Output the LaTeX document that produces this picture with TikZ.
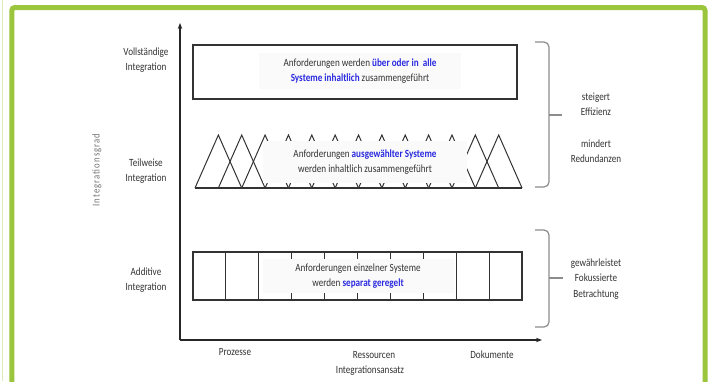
\documentclass[tikz,border=0pt]{standalone}
\usepackage{fontspec}
\setmainfont{Carlito}[FakeStretch=0.83]
\usetikzlibrary{arrows.meta,positioning}

\definecolor{framegreen}{HTML}{9BC53D}
\definecolor{textgray}{HTML}{333333}
\definecolor{hlblue}{HTML}{2A2AE0}
\definecolor{bracegray}{HTML}{8C8C8C}

\newcommand{\hl}[1]{\textcolor{hlblue}{\textbf{#1}}}

\begin{document}
\begin{tikzpicture}[
    x=1pt, y=-1pt,
    font=\fontsize{11}{15.5}\selectfont,
    text=textgray,
    frame/.style={draw=framegreen, line width=5pt, rounded corners=3pt},
    axis/.style={-{Stealth[length=6pt,width=4.5pt]}, line width=1.3pt, draw=black!85},
    box/.style={draw=black!80, line width=1.6pt},
    thin line/.style={draw=black!80, line width=1pt},
    textbox/.style={fill=black!2, align=center, inner sep=0pt},
    level/.style={align=center},
    effect/.style={align=center},
    bracket/.style={draw=bracegray, line width=1.2pt, rounded corners=5pt}
]
\useasboundingbox (0,0) rectangle (710,381);
\fill[white] (0,0) rectangle (710,381);

% Frame
\draw[framegreen!35, line width=1pt] (2,0) -- (2,381);
\draw[frame] (11.8,390) -- (11.8,7.5) -- (705,7.5) -- (705,390);

% Axes
\coordinate (origin) at (180,340);
\coordinate (ytop) at (180,23);
\coordinate (xend) at (542,340);
\draw[axis] (origin) -- (ytop);
\draw[axis] (origin) -- (xend);

\node[rotate=90, text=black!55, font=\fontsize{10.5}{12}\selectfont\addfontfeatures{LetterSpace=10}] (ylabel) at (97,170) {Integrationsgrad};

% Levels
\node[level] (vollst) at (146,60) {Vollständige\\Integration};
\node[level] (teilw) at (146,171) {Teilweise\\Integration};
\node[level] (additiv) at (146,280) {Additive\\Integration};

% Full integration
\draw[box] (193,45) rectangle (517,99);
\node[textbox, minimum width=202pt, minimum height=36pt] (fulltext) at (360,71)
    {Anforderungen werden \hl{über oder in\ \ alle}\\\hl{Systeme inhaltlich} zusammengeführt};

% Partial integration
\foreach \k in {1,...,13} {
    \draw[thin line] ({195+23.36*(\k-1)},188) -- ({195+23.36*\k},135) -- ({195+23.36*(\k+1)},188);
}
\draw[box] (195,188) -- (522,188);
\node[textbox, minimum width=204pt, minimum height=42pt] (parttext) at (365,162)
    {Anforderungen \hl{ausgewählter Systeme}\\werden inhaltlich zusammengeführt};

% Additive integration
\draw[box] (193,252) rectangle (522,300);
\foreach \k in {1,...,9} {
    \draw[thin line] ({193+32.9*\k},252) -- ++(0,48);
}
\node[textbox, minimum width=191pt, minimum height=34pt] (addtext) at (358,276)
    {Anforderungen einzelner Systeme\\werden \hl{separat geregelt}};

% Braces
\draw[bracket] (535,42) -- (549,42) -- (549,187) -- (535,187);
\draw[bracket] (549,115) -- (562,115);
\draw[bracket] (535,230) -- (549,230) -- (549,327) -- (535,327);
\draw[bracket] (549,278) -- (563,278);

\node[effect] (effizienz) at (596,104) {steigert\\Effizienz};
\node[effect] (redund) at (596,151) {mindert\\Redundanzen};
\node[effect] (fokus) at (596,279) {gewährleistet\\Fokussierte\\Betrachtung};

% Approach
\node (prozesse) at (235,352) {Prozesse};
\node (ressourcen) at (374,355) {Ressourcen};
\node (dokumente) at (492,355) {Dokumente};
\node (ansatz) at (370,371) {Integrationsansatz};

\end{tikzpicture}
\end{document}
